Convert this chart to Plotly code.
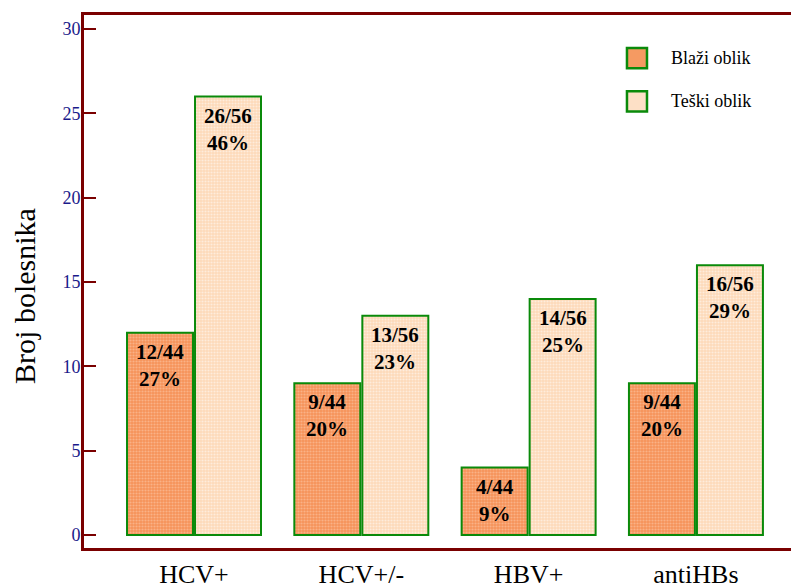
import plotly.graph_objects as go

categories = ["HCV+", "HCV+/-", "HBV+", "antiHBs"]
blazi_values = [12, 9, 4, 9]
teski_values = [26, 13, 14, 16]
blazi_labels = ["12/44<br>27%", "9/44<br>20%", "4/44<br>9%", "9/44<br>20%"]
teski_labels = ["26/56<br>46%", "13/56<br>23%", "14/56<br>25%", "16/56<br>29%"]
series_names = ["Blaži oblik", "Teški oblik"]
y_ticks = [0, 5, 10, 15, 20, 25, 30]
y_title = "Broj bolesnika"

FONT = "Liberation Serif, Times New Roman, serif"
AXIS_RED = "#7a0000"
GREEN = "#0a8a0a"
ORANGE_BG, ORANGE_FG = "#f6925a", "#fcd2b4"
LIGHT_BG, LIGHT_FG = "#fdd9b8", "#ffffff"

fig = go.Figure()
fig.add_trace(go.Bar(
    x=categories, y=blazi_values, name=series_names[0],
    text=blazi_labels, textposition="none", showlegend=False,
    marker=dict(color=ORANGE_BG, line=dict(color=GREEN, width=2),
                pattern=dict(shape=".", size=3, solidity=0.4,
                             fgcolor=ORANGE_FG, bgcolor=ORANGE_BG, fillmode="overlay")),
))
fig.add_trace(go.Bar(
    x=categories, y=teski_values, name=series_names[1],
    text=teski_labels, textposition="none", showlegend=False,
    marker=dict(color=LIGHT_BG, line=dict(color=GREEN, width=2),
                pattern=dict(shape=".", size=3, solidity=0.4,
                             fgcolor=LIGHT_FG, bgcolor=LIGHT_BG, fillmode="overlay")),
))

annotations = []
for i, c in enumerate(categories):
    for vals, labs, off in ((blazi_values, blazi_labels, -0.203), (teski_values, teski_labels, 0.203)):
        annotations.append(dict(
            x=i + off, y=vals[i], xref="x", yref="y", text="<b>" + labs[i] + "</b>",
            showarrow=False, yanchor="top", yshift=-5,
            font=dict(family=FONT, size=21, color="black"),
        ))

# manual legend (larger swatches as in the original)
shapes = []
legend_rows = [(series_names[0], "#f59a62", 0.938, 0.900, 0.919),
               (series_names[1], "#fde0c6", 0.857, 0.819, 0.838)]
for name, col, y1, y0, yc in legend_rows:
    shapes.append(dict(type="rect", xref="paper", yref="paper",
                       x0=0.7594, x1=0.7874, y0=y0, y1=y1,
                       fillcolor=col, line=dict(color=GREEN, width=2.5)))
    annotations.append(dict(x=0.818, y=yc, xref="paper", yref="paper", text=name,
                            showarrow=False, xanchor="left", yanchor="middle",
                            font=dict(family=FONT, size=18, color="black")))

# y-axis title
annotations.append(dict(x=-0.0825, y=0.473, xref="paper", yref="paper", text=y_title,
                        textangle=-90, showarrow=False, xanchor="center", yanchor="middle",
                        font=dict(family=FONT, size=30, color="black")))

# the page body adds an 8 px offset, so the figure is 8 px smaller and margins compensate
fig.update_layout(
    width=791, height=580,
    margin=dict(l=76, r=0, t=7, b=40),
    paper_bgcolor="white", plot_bgcolor="white",
    barmode="group", bargap=0.187, bargroupgap=0.03,
    font=dict(family=FONT, color="black"),
    showlegend=False,
    annotations=annotations,
    shapes=shapes,
)
fig.update_xaxes(
    type="category", range=[-0.6575, 3.616], automargin=False,
    showline=True, linecolor=AXIS_RED, linewidth=3, mirror=True,
    ticks="", showgrid=False, zeroline=False,
    tickfont=dict(family=FONT, size=26, color="black"),
    ticklabelstandoff=1,
)
fig.update_yaxes(
    range=[-0.77, 30.84], tickvals=y_ticks, automargin=False,
    showline=True, linecolor=AXIS_RED, linewidth=3,
    ticks="inside", ticklen=12, tickwidth=2, tickcolor=AXIS_RED,
    showgrid=False, zeroline=False,
    tickfont=dict(family=FONT, size=18, color="#1a1a8a"),
    ticklabelstandoff=-3,
)

fig.write_html("out.html")
